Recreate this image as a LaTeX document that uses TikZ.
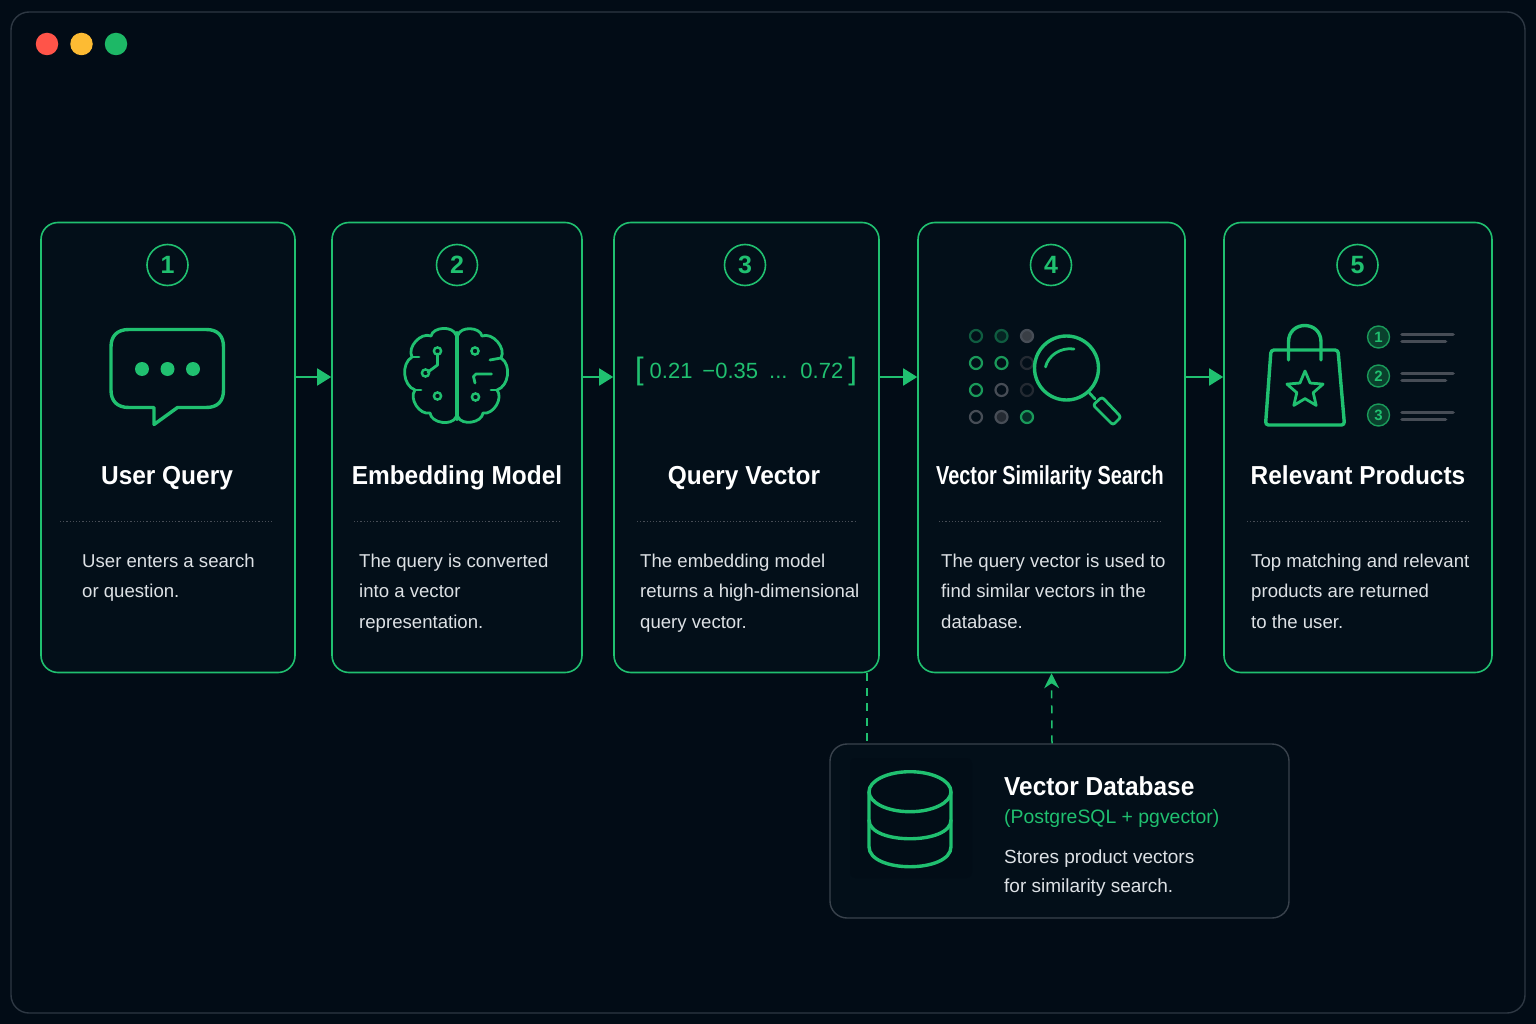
\documentclass[tikz,border=0pt]{standalone}
\usepackage{xcolor}
\usepackage{fontspec}
\setmainfont{Liberation Sans}
\usetikzlibrary{shapes.geometric, arrows.meta, positioning, calc}
\definecolor{csbg}{HTML}{020C16}
\definecolor{cscard}{HTML}{030F19}
\definecolor{csgreen}{HTML}{20C070}
\definecolor{csframe}{HTML}{2E3843}
\definecolor{csbox}{HTML}{39424C}
\definecolor{csdim}{HTML}{0F5C40}
\definecolor{csgrey}{HTML}{474D56}
\definecolor{csdark}{HTML}{242A32}
\definecolor{cstext}{HTML}{DDE1E5}
\definecolor{csred}{HTML}{FF5449}
\definecolor{csyellow}{HTML}{FDBB33}
\definecolor{cslight}{HTML}{1DB866}
\begin{document}
\begin{tikzpicture}[
    x=1pt, y=-1pt,
    window/.style={rectangle, rounded corners=18pt, draw=csframe, fill=csbg, line width=1.4pt},
    light/.style={circle, minimum size=22.5pt, inner sep=0pt, fill=#1},
    card/.style={rectangle, rounded corners=17pt, draw=csgreen, fill=cscard, line width=1.6pt,
                 minimum height=450pt, minimum width=#1},
    num/.style={circle, draw=csgreen, line width=1.6pt, minimum size=41pt, inner sep=0pt,
                text=csgreen, font=\fontsize{25}{25}\selectfont\bfseries},
    title/.style={text=white, inner sep=0pt, anchor=base,
                  font=\fontsize{26}{30}\selectfont\bfseries\addfontfeatures{FakeStretch=0.94}},
    body/.style={text=cstext, inner sep=0pt, anchor=north west, align=left,
                 font=\fontsize{18.6}{30.5}\selectfont},
    sep/.style={dash pattern=on 1.2pt off 2pt, draw=csgrey, line width=1pt},
    arrow/.style={-{Triangle[length=14pt,width=17pt]}, csgreen, line width=1.9pt},
    link/.style={dashed, dash pattern=on 8pt off 7pt, csgreen, line width=1.5pt},
    icon/.style={draw=csgreen, line width=3.4pt, line cap=round, line join=round},
    thin/.style={draw=csgreen, line width=2.8pt, line cap=round, line join=round},
    dot/.style={circle, minimum size=12pt, inner sep=0pt, line width=2.2pt, draw=#1},
    rank/.style={circle, minimum size=22pt, inner sep=0pt, draw=csgreen!80!black, fill=csdim!70!black, line width=1.4pt,
                 text=csgreen, font=\fontsize{15}{15}\selectfont\bfseries},
    bar/.style={draw=csgrey, line width=3.6pt, line cap=round}
]
\useasboundingbox (0,0) rectangle (1536,1024);
\fill[csbg] (0,0) rectangle (1536,1024);
\node[window, minimum width=1514pt, minimum height=1001pt] (frame) at (768,512.5) {};
\node[light=csred] (lred) at (47,44) {};
\node[light=csyellow] (lyellow) at (81.5,44) {};
\node[light=cslight] (lgreen) at (116,44) {};

% cards
\node[card=254pt] (c1) at (168,447.5)  {};
\node[card=250pt] (c2) at (457,447.5)  {};
\node[card=265pt] (c3) at (746.5,447.5) {};
\node[card=267pt] (c4) at (1051.5,447.5) {};
\node[card=268pt] (c5) at (1358,447.5) {};

\node[num] (n1) at (167.5,265) {1};
\node[num] (n2) at (457,265)   {2};
\node[num] (n3) at (745,265)   {3};
\node[num] (n4) at (1051,265)  {4};
\node[num] (n5) at (1357.5,265) {5};

\node[title] (t1) at (167,484)  {User Query};
\node[title] (t2) at (457,484)  {Embedding Model};
\node[title] (t3) at (744,484)  {Query Vector};
\node[title] (t4) at (1050,484) {\addfontfeatures{FakeStretch=0.765}Vector Similarity Search};
\node[title] (t5) at (1358,484) {Relevant Products};

\draw[sep] (60,521) -- (273,521);
\draw[sep] (354,521) -- (559,521);
\draw[sep] (637,521) -- (855,521);
\draw[sep] (939,521) -- (1162,521);
\draw[sep] (1247,521) -- (1469,521);

\node[body] (b1) at (82,553.5)   {User enters a search\\or question.};
\node[body] (b2) at (359,553.5)  {The query is converted\\into a vector\\representation.};
\node[body] (b3) at (640,553.5)  {The embedding model\\returns a high-dimensional\\query vector.};
\node[body] (b4) at (941,553.5)  {The query vector is used to\\find similar vectors in the\\database.};
\node[body] (b5) at (1251,553.5) {Top matching and relevant\\products are returned\\to the user.};

\draw[arrow] ([yshift=70.5pt]c1.east) -- ([yshift=70.5pt]c2.west);
\draw[arrow] ([yshift=70.5pt]c2.east) -- ([yshift=70.5pt]c3.west);
\draw[arrow] ([yshift=70.5pt]c3.east) -- ([yshift=70.5pt]c4.west);
\draw[arrow] ([yshift=70.5pt]c4.east) -- ([yshift=70.5pt]c5.west);

% chat bubble
\draw[icon] (129,329.5) -- (206,329.5) .. controls (218,329.5) and (223.5,336) .. (223.5,347)
    -- (223.5,390) .. controls (223.5,401) and (218,407.5) .. (206,407.5) -- (177.5,407.5)
    -- (154,424.5) -- (154,407.5) -- (129,407.5) .. controls (117,407.5) and (111,401) .. (111,390)
    -- (111,347) .. controls (111,336) and (117,329.5) .. (129,329.5) -- cycle;
\foreach \x in {142,167.5,193} \fill[csgreen] (\x,369) circle (7pt);

% brain
\draw[thin] (456,335) to[bend right=75] (431,336) to[bend right=70] (412,357)
    to[bend right=65] (415,390) to[bend right=70] (430,413) to[bend right=75] (456,417);
\draw[thin] (458,335) to[bend left=75] (482,336) to[bend left=70] (501,358)
    to[bend left=65] (497,390) to[bend left=70] (483,413) to[bend left=75] (458,417);
\draw[csgreen, line width=3.8pt, line cap=round] (457,333) -- (457,419);
\draw[thin] (412,357) -- (419,357);
\draw[thin] (415,390) -- (421,390);
\draw[thin] (501,358) -- (490,360);
\draw[thin] (497,390) -- (491,390);
\draw[thin] (437.5,354) -- (437.5,365) -- (428,372);
\draw[thin] (491.5,374) -- (476,374) -- (473.5,376.5) -- (475,383);
\foreach \x/\y in {437.5/351,425.5/373,437.5/396,475/351,475.5/397}
    \draw[csgreen, line width=2.4pt] (\x,\y) circle (3.6pt);

% vector
\node[text=csgreen, inner sep=0pt, font=\fontsize{22}{26}\selectfont] (vec) at (746,371)
    {{\fontsize{31}{31}\selectfont\raisebox{-1pt}{[}}\hspace{6pt}0.21\hspace{10pt}−0.35\hspace{11pt}...\hspace{13pt}0.72\hspace{5pt}{\fontsize{31}{31}\selectfont\raisebox{-1pt}{]}}};

% search
\node[dot=csdim] (d11) at (976,336) {};
\node[dot=csdim, fill=csdim!30!csbg] (d12) at (1001.5,336) {};
\node[dot=csgrey, fill=csgrey!80!black] (d13) at (1027,336) {};
\node[dot=csgreen!80!black] (d21) at (976,363) {};
\node[dot=csgreen!80!black] (d22) at (1001.5,363) {};
\node[dot=csdark] (d23) at (1027,363) {};
\node[dot=csgreen!80!black] (d31) at (976,390) {};
\node[dot=csgrey] (d32) at (1001.5,390) {};
\node[dot=csdark] (d33) at (1027,390) {};
\node[dot=csgrey] (d41) at (976,417) {};
\node[dot=csgrey, fill=csdark] (d42) at (1001.5,417) {};
\node[dot=csgreen!80!black, fill=csdim!40!csbg] (d43) at (1027,417) {};
\fill[cscard] (1066.5,368) circle (32pt);
\draw[icon] (1066.5,368) circle (32pt);
\draw[thin] (1045.5,367) .. controls (1048,356) and (1060,347) .. (1074,349);
\draw[thin] (1089.5,393) -- (1095,399);
\draw[thin, rounded corners=2.5pt] (1093,405) -- (1102,397) -- (1121,417) -- (1113,425) -- cycle;

% bag
\draw[icon, rounded corners=3pt] (1271,350) -- (1338,350) -- (1344.5,425) -- (1265.5,425) -- cycle;
\draw[icon] (1288.5,360) -- (1288.5,342) .. controls (1288.5,320) and (1321,320) .. (1321,342) -- (1321,360);
\node[star, star points=5, star point ratio=2.2, draw=csgreen, line width=2.8pt, line join=round,
      minimum size=38pt, inner sep=0pt] (bagstar) at (1305,390) {};
\foreach \i/\y in {1/337,2/376,3/415} {
    \node[rank] (r\i) at (1378.5,\y) {\i};
    \draw[bar] (1402,\y-2.5) -- (1453,\y-2.5);
    \draw[bar] (1402,\y+4.5) -- (1445.5,\y+4.5);
}

% database
\node[rectangle, rounded corners=17pt, draw=csbox, fill=cscard, line width=1.4pt,
      minimum width=459pt, minimum height=174pt] (db) at (1059.5,831) {};
\fill[csbg!60!cscard, rounded corners=6pt] (850,758) rectangle (972,878);
\draw[icon] (910,791.7) ellipse [x radius=41pt, y radius=20pt];
\draw[icon] (869,792) -- (869,846.7) .. controls (869,873.4) and (951,873.4) .. (951,846.7) -- (951,792);
\draw[icon] (869,820) .. controls (869,845) and (951,845) .. (951,820);
\node[title, anchor=base west] (dbt) at (1004,795) {Vector Database};
\node[anchor=west, inner sep=0pt, text=csgreen, font=\fontsize{19.4}{24}\selectfont] (dbs) at (1004,818) {(PostgreSQL + pgvector)};
\node[body, font=\fontsize{19}{29}\selectfont] (dbb) at (1004,850) {Stores product vectors\\for similarity search.};

\draw[link] ([xshift=120.5pt]c3.south) -- ([xshift=120.5pt]c3.south |- db.north);
\draw[link, -{Stealth[length=15pt,width=15pt,inset=5pt]}] ([xshift=-7.5pt]db.north) -- (c4.south);
\end{tikzpicture}
\end{document}
